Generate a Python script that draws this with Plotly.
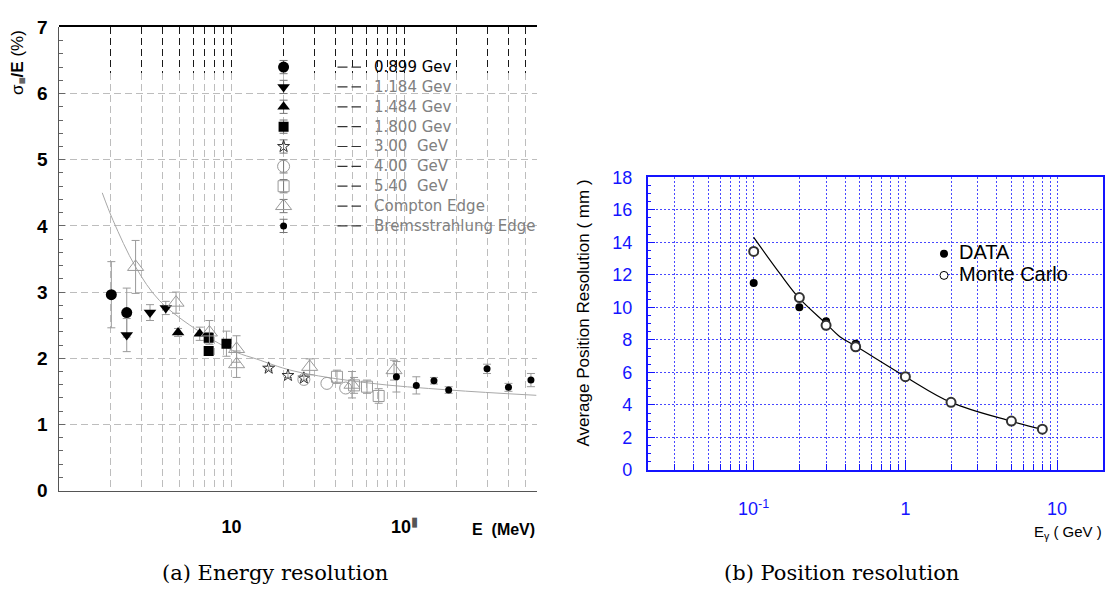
import math
import plotly.graph_objects as go

W, H = 1108, 601

# ================= data : (a) energy resolution =================
LABELS_A = ["0.899 Gev", "1.184 Gev", "1.484 Gev", "1.800 Gev", "3.00\u00a0 GeV",
            "4.00\u00a0 GeV", "5.40\u00a0 GeV", "Compton Edge", "Bremsstrahlung Edge"]

E_0899 = [2.02, 2.48]
R_0899 = [2.96, 2.69]
D_0899 = [0.50, 0.37]

E_1184 = [2.48, 3.38, 4.17]
R_1184 = [2.35, 2.69, 2.76]
D_1184 = [0.25, 0.12, 0.10]

E_1484 = [4.91, 6.55]
R_1484 = [2.39, 2.37]
D_1484 = [0.06, 0.10]

E_1800 = [7.38, 7.38, 9.35]
R_1800 = [2.31, 2.11, 2.22]
D_1800 = [0.08, 0.06, 0.19]

E_3000 = [16.4, 21.2, 26.2]
R_3000 = [1.85, 1.74, 1.70]
D_3000 = [0.03, 0.03, 0.03]

E_4000 = [26.2, 35.6, 45.7]
R_4000 = [1.68, 1.62, 1.55]
D_4000 = [0.0, 0.0, 0.0]

E_5400 = [40.7, 51.1, 60.7, 70.9]
R_5400 = [1.72, 1.59, 1.57, 1.43]
D_5400 = [0.10, 0.12, 0.10, 0.11]

E_COMPTON = [2.79, 4.78, 7.45, 10.7, 10.7, 28.3, 49.7, 87.0]
R_COMPTON = [3.38, 2.84, 2.39, 2.14, 1.91, 1.87, 1.60, 1.82]
D_COMPTON = [0.40, 0.16, 0.18, 0.20, 0.20, 0.12, 0.20, 0.15]

E_BREMS = [89.8, 117.0, 148.0, 180.0, 300.0, 399.0, 538.0]
R_BREMS = [1.72, 1.59, 1.66, 1.52, 1.84, 1.56, 1.67]
D_BREMS = [0.23, 0.13, 0.05, 0.05, 0.07, 0.06, 0.10]

FIT_A_E = [1.79, 2.07, 2.79, 3.84, 6.55, 10.7, 13.9, 22.7, 60.2, 182.0, 578.0]
FIT_A_R = [4.50, 4.08, 3.38, 2.87, 2.40, 2.09, 1.99, 1.81, 1.63, 1.52, 1.44]

XTICKS_A = [10, 100]
XTICKTEXT_A = ["<b>10</b>", "<b>10</b><sup><span style='color:#555'>\u25ae</span></sup>"]
YTICKS_A = [0, 1, 2, 3, 4, 5, 6, 7]
YTICKTEXT_A = ["<b>%d</b>" % v for v in YTICKS_A]
GRID_A = [2, 3, 4, 5, 6, 7, 8, 9, 10, 20, 30, 40, 50, 60, 70, 80, 90, 100, 200, 300, 400, 500]
YGRID_A = [1, 2, 3, 4, 5, 6]

# ================= data : (b) position resolution =================
E_B = [0.1, 0.2, 0.3, 0.47, 1.0, 2.0, 5.0, 8.0]
DATA_B = [11.50, 10.01, 9.15, 7.76, 5.74, 4.16, 3.01, 2.51]
MC_B = [13.44, 10.60, 8.90, 7.58, 5.74, 4.16, 3.01, 2.51]
FIT_B_E = [0.1, 0.149, 0.2, 0.3, 0.37, 0.47, 1.0, 2.0, 5.0, 8.0]
FIT_B_R = [14.30, 12.07, 10.55, 9.00, 8.20, 7.62, 5.74, 4.16, 3.00, 2.50]
XTICKS_B = [0.1, 1, 10]
XTICKTEXT_B = ["10<sup>-1</sup>", "1", "10"]
XMINOR_B = [0.03, 0.04, 0.05, 0.06, 0.07, 0.08, 0.09,
            0.2, 0.3, 0.4, 0.5, 0.6, 0.7, 0.8, 0.9,
            2, 3, 4, 5, 6, 7, 8, 9]
LABELS_B = ["DATA", "Monte Carlo"]

# ================= layout geometry (pixels) =================
def fx(px):
    return px / W

def fy(py):
    return 1 - py / H

# panel (a)
A_X0, A_X1 = 58.5, 537.0
A_TOP, A_BAND, A_BOT = 18.0, 65.0, 498.0
A_DEC = 173.0                       # pixels per decade
A_XR = [0, (A_X1 - A_X0) / A_DEC]
A_YMAX = 7.0
A_PXU = (A_BOT - A_TOP) / A_YMAX
A_YBAND = (A_BOT - A_BAND) / A_PXU

# panel (b)
B_X0, B_X1 = 647.7, 1102.7
B_TOP, B_BOT = 173.3, 476.7
B_XR = [math.log10(0.02), math.log10(20)]
B_YR = [0, 18]

BLUE = "#1414ff"
GRID_BLUE = "rgba(40,40,255,0.85)"
GRAY_GRID = "#bdbdbd"

fig = go.Figure()

# empty traces to create the grid subplots
fig.add_trace(go.Scatter(x=[], y=[], xaxis="x", yaxis="y", showlegend=False))
fig.add_trace(go.Scatter(x=[], y=[], xaxis="x2", yaxis="y2", showlegend=False))

# ---- panel (a) traces ----
ERRC = "#9a9a9a"
series_a = [
    (E_0899, R_0899, D_0899, dict(symbol="circle", color="black", size=11)),
    (E_1184, R_1184, D_1184, dict(symbol="triangle-down", color="black", size=11)),
    (E_1484, R_1484, D_1484, dict(symbol="triangle-up", color="black", size=11)),
    (E_1800, R_1800, D_1800, dict(symbol="square", color="black", size=10)),
    (E_3000, R_3000, D_3000, dict(symbol="star-open", color="#333", size=9, line=dict(width=1, color="#333"))),
    (E_4000, R_4000, D_4000, dict(symbol="circle-open", color="#9a9a9a", size=12, line=dict(width=1, color="#9a9a9a"))),
    (E_5400, R_5400, D_5400, dict(symbol="square-open", color="#9a9a9a", size=11, line=dict(width=1, color="#9a9a9a"))),
    (E_COMPTON, R_COMPTON, D_COMPTON, dict(symbol="triangle-up-open", color="#9a9a9a", size=14, line=dict(width=1, color="#9a9a9a"))),
    (E_BREMS, R_BREMS, D_BREMS, dict(symbol="circle", color="black", size=7)),
]

fig.add_trace(go.Scatter(x=FIT_A_E, y=FIT_A_R, mode="lines", xaxis="x3", yaxis="y3",
                         line=dict(color="#a8a8a8", width=1, shape="spline"), showlegend=False,
                         hoverinfo="skip"))

for ex, ry, de, mk in series_a:
    has_err = any(v > 0 for v in de)
    fig.add_trace(go.Scatter(
        x=ex, y=ry, mode="markers", xaxis="x3", yaxis="y3", marker=mk, showlegend=False,
        error_y=dict(type="data", array=de, visible=has_err, color=ERRC, thickness=1, width=4)))

# hand-drawn legend of panel (a)
LEG_E = 20            # legend markers sit on the E = 20 grid line
LEG_Y0, LEG_DY = 6.40, 0.30
LEG_DASH_PX = (337.5, 361.0)
LEG_TEXT_PX = 372.0
for i, (lab, (_, _, _, mk)) in enumerate(zip(LABELS_A, series_a)):
    yy = LEG_Y0 - i * LEG_DY
    fig.add_trace(go.Scatter(
        x=[LEG_E], y=[yy], mode="markers", xaxis="x3", yaxis="y3", marker=mk, showlegend=False,
        error_y=dict(type="data", array=[0.1], color="#777", thickness=1, width=4)))
    fig.add_shape(type="line", xref="paper", yref="y3",
                  x0=fx(LEG_DASH_PX[0]), x1=fx(LEG_DASH_PX[1]), y0=yy, y1=yy,
                  line=dict(color="#333", width=1.2, dash="10px,4px"))
    fig.add_annotation(text=lab, xref="paper", yref="y3", x=fx(LEG_TEXT_PX), y=yy,
                       xanchor="left", yanchor="middle", showarrow=False,
                       font=dict(family="DejaVu Sans", size=15,
                                 color="black" if i == 0 else "#808080"))

# ---- panel (b) traces ----
fig.add_trace(go.Scatter(x=FIT_B_E, y=FIT_B_R, mode="lines", xaxis="x4", yaxis="y4",
                         line=dict(color="black", width=1.2, shape="spline"), showlegend=False))
fig.add_trace(go.Scatter(x=E_B, y=DATA_B, mode="markers", xaxis="x4", yaxis="y4",
                         marker=dict(symbol="circle", color="black", size=8), showlegend=False))
fig.add_trace(go.Scatter(x=E_B, y=MC_B, mode="markers", xaxis="x4", yaxis="y4",
                         marker=dict(symbol="circle", color="white", size=9,
                                     line=dict(color="#333", width=2)), showlegend=False))

# legend of panel (b)
def bx(px):
    return 10 ** (B_XR[0] + (px - B_X0) / (B_X1 - B_X0) * (B_XR[1] - B_XR[0]))

def by(py):
    return B_YR[1] - (py - B_TOP) / (B_BOT - B_TOP) * (B_YR[1] - B_YR[0])

LEGB_MX, LEGB_TX = 944.0, 957.0
LEGB_ROWS = [252.5, 275.0]
fig.add_trace(go.Scatter(x=[bx(LEGB_MX)], y=[by(LEGB_ROWS[0])], mode="markers", xaxis="x4", yaxis="y4",
                         marker=dict(symbol="circle", color="black", size=8), showlegend=False))
fig.add_trace(go.Scatter(x=[bx(LEGB_MX)], y=[by(LEGB_ROWS[1])], mode="markers", xaxis="x4", yaxis="y4",
                         marker=dict(symbol="circle", color="white", size=8,
                                     line=dict(color="black", width=1)), showlegend=False))
for lab, row in zip(LABELS_B, LEGB_ROWS):
    fig.add_annotation(text=lab, xref="paper", yref="paper", x=fx(LEGB_TX), y=fy(row - 1.5),
                       xanchor="left", yanchor="middle", showarrow=False,
                       font=dict(family="Liberation Sans", size=20, color="black"))

# ================= axes =================
a_dom_x = [fx(A_X0), fx(A_X1)]
common_log_a = dict(type="log", range=A_XR, domain=a_dom_x, zeroline=False, fixedrange=True)

layout = dict(
    width=W, height=H, autosize=False,
    margin=dict(l=0, r=0, t=0, b=0, pad=0),
    paper_bgcolor="white", plot_bgcolor="rgba(0,0,0,0)",
    showlegend=False,
    # gray grid region of (a)
    xaxis=dict(**common_log_a, anchor="y", tickmode="array", tickvals=GRID_A, showticklabels=False,
               ticks="", showgrid=True, gridcolor=GRAY_GRID, gridwidth=1, griddash="7px,4px",
               showline=False),
    yaxis=dict(domain=[fy(A_BOT), fy(A_BAND)], anchor="x", range=[0, A_YBAND], tickmode="array",
               tickvals=YGRID_A, showticklabels=False, ticks="", showgrid=True, gridcolor=GRAY_GRID,
               gridwidth=1, griddash="7px,4px", showline=False, zeroline=False, fixedrange=True),
    # black grid band at the top of (a)
    xaxis2=dict(**common_log_a, anchor="y2", tickmode="array", tickvals=GRID_A, showticklabels=False,
                ticks="", showgrid=True, gridcolor="#1a1a1a", gridwidth=1, griddash="7px,4px",
                showline=True, side="top", linecolor="black", linewidth=1.5),
    yaxis2=dict(domain=[fy(A_BAND), fy(A_TOP)], anchor="x2", range=[0, 1], showticklabels=False,
                ticks="", showgrid=False, showline=False, zeroline=False, fixedrange=True),
    # data axes of (a)
    xaxis3=dict(**common_log_a, anchor="y3", tickmode="array", tickvals=XTICKS_A, ticktext=XTICKTEXT_A,
                ticks="", showgrid=False, showline=True, linecolor="#555", linewidth=1.3,
                tickfont=dict(family="Liberation Sans", size=18, color="black"),
                ticklabelstandoff=20),
    yaxis3=dict(domain=[fy(A_BOT), fy(A_TOP)], anchor="x3", range=[0, A_YMAX], tickmode="array",
                tickvals=YTICKS_A, ticktext=YTICKTEXT_A, ticks="inside", ticklen=6, tickcolor="#666",
                showgrid=False,
                minor=dict(dtick=0.2, tick0=0, ticks="inside", ticklen=4, tickcolor="#666", showgrid=False),
                showline=True, linecolor="#555", linewidth=1.3, zeroline=False, fixedrange=True,
                tickfont=dict(family="Liberation Sans", size=19, color="black"),
                ticklabelstandoff=6),
    # panel (b)
    xaxis4=dict(type="log", range=B_XR, domain=[fx(B_X0), fx(B_X1)], anchor="y4",
                tickmode="array", tickvals=XTICKS_B, ticktext=XTICKTEXT_B,
                ticks="inside", ticklen=10, tickcolor=BLUE, tickwidth=1,
                minor=dict(tickmode="array", tickvals=XMINOR_B, ticks="inside", ticklen=6,
                           tickcolor=BLUE, showgrid=True, gridcolor=GRID_BLUE, griddash="2px,2px",
                           gridwidth=1),
                showgrid=True, gridcolor=GRID_BLUE, griddash="2px,2px", gridwidth=1,
                showline=True, mirror=True, linecolor=BLUE, linewidth=1.5, zeroline=False,
                tickfont=dict(family="Liberation Sans", size=18, color=BLUE),
                ticklabelstandoff=22, fixedrange=True),
    yaxis4=dict(domain=[fy(B_BOT), fy(B_TOP)], anchor="x4", range=B_YR, dtick=2, tick0=0,
                ticks="inside", ticklen=8, tickcolor=BLUE,
                minor=dict(dtick=0.5, tick0=0, ticks="inside", ticklen=4, tickcolor=BLUE, showgrid=False),
                showgrid=True, gridcolor=GRID_BLUE, griddash="2px,2px", gridwidth=1,
                showline=True, mirror=True, linecolor=BLUE, linewidth=1.5, zeroline=False,
                tickfont=dict(family="Liberation Sans", size=18, color=BLUE),
                ticklabelstandoff=10, fixedrange=True),
)
fig.update_layout(**layout)

# ================= titles / captions =================
fig.add_annotation(text="\u03c3<sub><span style='color:#666'>\u25a0</span></sub><b>/E</b> (%)",
                   xref="paper", yref="paper", x=fx(19), y=fy(55), textangle=-90,
                   xanchor="center", yanchor="middle", showarrow=False,
                   font=dict(family="Liberation Sans", size=17, color="black"))
fig.add_annotation(text="<b>E\u00a0 (MeV)</b>", xref="paper", yref="paper", x=fx(537), y=fy(538),
                   xanchor="right", yanchor="middle", showarrow=False,
                   font=dict(family="Liberation Sans", size=16, color="black"))
fig.add_annotation(text="Average Position Resolution ( mm )", xref="paper", yref="paper",
                   x=fx(583.5), y=fy(314), textangle=-90, xanchor="center", yanchor="middle",
                   showarrow=False, font=dict(family="Liberation Sans", size=17, color="black"))
fig.add_annotation(text="E<sub>\u03b3</sub> ( GeV )", xref="paper", yref="paper", x=fx(1104), y=fy(541),
                   xanchor="right", yanchor="middle", showarrow=False,
                   font=dict(family="Liberation Sans", size=15, color="black"))
fig.add_annotation(text="(a) Energy resolution", xref="paper", yref="paper", x=fx(275), y=fy(583),
                   xanchor="center", yanchor="middle", showarrow=False,
                   font=dict(family="DejaVu Serif", size=21, color="black"))
fig.add_annotation(text="(b) Position resolution", xref="paper", yref="paper", x=fx(841), y=fy(583),
                   xanchor="center", yanchor="middle", showarrow=False,
                   font=dict(family="DejaVu Serif", size=21, color="black"))

fig.write_html("out.html")
